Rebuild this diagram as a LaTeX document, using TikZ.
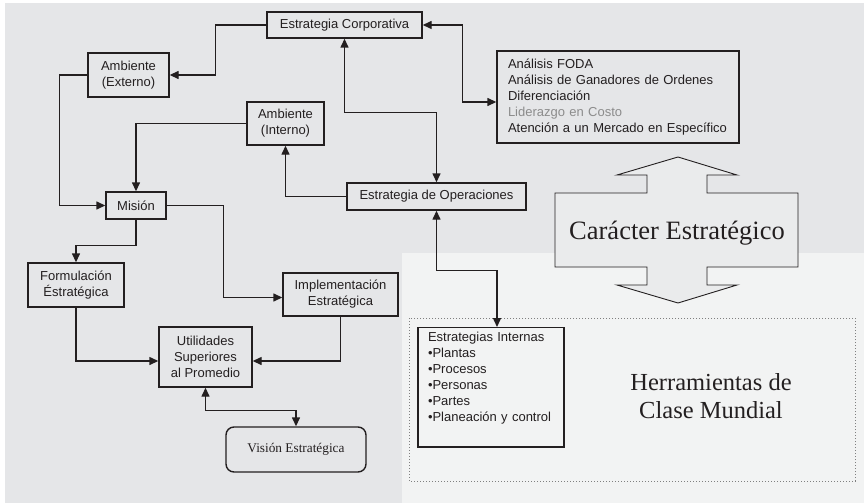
\documentclass[tikz,border=0pt]{standalone}
\usepackage{fontspec}
\setmainfont{Liberation Serif}
\setsansfont{Liberation Sans}
\usepackage{xcolor}
\usetikzlibrary{arrows.meta}
\definecolor{fondo}{HTML}{E5E6E8}
\definecolor{claro}{HTML}{F2F3F3}
\definecolor{relleno}{HTML}{EAEBEC}
\definecolor{tinta}{HTML}{231F20}
\def\cajafont{\sffamily\fontsize{13}{16}\selectfont}

\begin{document}
\begin{tikzpicture}[x=1pt, y=-1pt,
	>={Triangle[length=9pt,width=8pt]},
	caja/.style={rectangle, draw=tinta, line width=1.4pt, inner sep=0pt, align=center, font=\cajafont, text=tinta},
	cajalista/.style={caja, align=left, inner sep=0pt},
	cajaredonda/.style={caja, rounded corners=8, font=\rmfamily\fontsize{13.3}{16}\selectfont},
	linea/.style={line width=1.4pt, draw=tinta},
	]
		%Background
		\useasboundingbox (0,0) rectangle (864,503);
		\fill[fondo] (5,3) rectangle (864,253);
		\fill[fondo] (5,253) rectangle (402,503);
		\fill[claro] (402,253) rectangle (864,503);
		\draw[dotted, gray, line width=1pt] (409,318) rectangle (855,481);

		%Nodes
    \node[caja, minimum width=155, minimum height=26] (Corp) at (344.5,25)   {Estrategia Corporativa};
    \node[caja, minimum width=81,  minimum height=44] (Ext)  at (128.5,75)   {Ambiente\\(Externo)};
    \node[caja, minimum width=77,  minimum height=43] (Int)  at (285.5,123.5) {Ambiente\\(Interno)};
    \node[caja, minimum width=60,  minimum height=27] (Mis)  at (136,205.5)  {Misión};
    \node[caja, minimum width=179, minimum height=27] (Ops)  at (436.5,196.5) {Estrategia de Operaciones};
    \node[caja, minimum width=96,  minimum height=44] (For)  at (76,285)     {Formulación\\Éstratégica};
    \node[caja, minimum width=115, minimum height=43] (Imp)  at (340.5,294.5) {Implementación\\Estratégica};
    \node[caja, minimum width=93,  minimum height=60] (Uti)  at (205.5,357)  {Utilidades\\Superiores\\al Promedio};
    \node[cajaredonda, minimum width=140, minimum height=45] (Vis) at (296,449.5) {Visión Estratégica};
    \node[cajalista, minimum width=242, minimum height=92, text width=220, inner xsep=11pt] (FODA) at (618,97)
        {Análisis FODA\\Análisis de Ganadores de Ordenes\\Diferenciación\\\textcolor{gray!90}{Liderazgo en Costo}\\Atención a un Mercado en Específico};
    \node[cajalista, anchor=north, minimum width=146, text width=126, inner xsep=10pt, inner ysep=4pt] (EstInt) at (491,327)
        {Estrategias Internas\\•Plantas\\•Procesos\\•Personas\\•Partes\\•Planeación y control\\[6pt]\mbox{}};

		%Double arrow
		\draw[draw=tinta, line width=0.9pt, fill=relleno]
			(678,157) -- (737,175) -- (707,175) -- (707,193) -- (798,193) -- (798,267) -- (707,267) -- (707,285)
			-- (737,285) -- (678,303) -- (617,285) -- (647,285) -- (647,267) -- (555,267) -- (555,193)
			-- (647,193) -- (647,175) -- (617,175) -- cycle;
    \node[font=\rmfamily\fontsize{26.5}{30}\selectfont, text=tinta, anchor=base] (Caracter) at (677,239) {Carácter Estratégico};
    \node[font=\rmfamily\fontsize{24.5}{28}\selectfont, text=tinta, align=center] (Herr) at (711,396) {Herramientas de\\Clase Mundial};

		%Lines
		\draw[->, linea] (Corp.west) -- ++(-51,0) |- (Ext.east);
		\draw[->, linea] (Ext.west) -- ++(-28,0) |- (Mis.west);
		\draw[->, linea] (Int.west) -| (Mis.north);
		\draw[->, linea] (Ops.west) -| (Int.south);
		\draw[<->, linea] (Corp.south) -- ++(0,74) -| (Ops.north);
		\draw[<->, linea] (Corp.east) -- ++(40,0) |- ([yshift=-5pt]FODA.west);
		\draw[->, linea] (Mis.east) -- ++(57,0) |- ([yshift=-3pt]Imp.west);
		\draw[->, linea] (Mis.south) -- ++(0,26) -| (For.north);
		\draw[->, linea] (For.south) |- ([yshift=-4pt]Uti.west);
		\draw[->, linea] (Imp.south) |- ([yshift=-4pt]Uti.east);
		\draw[<->, linea] (Uti.south) -- ++(0,23) -| (Vis.north);
		\draw[<->, linea] (Ops.south) -- ++(0,60) -| ([xshift=6pt]EstInt.north);
	\end{tikzpicture}
\end{document}
